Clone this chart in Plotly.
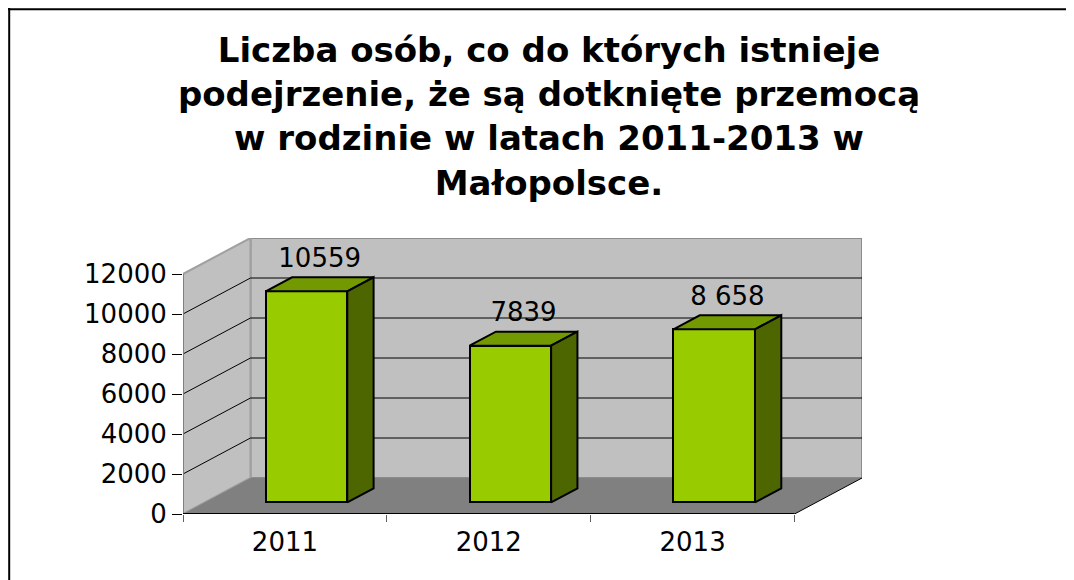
import plotly.graph_objects as go

# ---- data ----
years = ["2011", "2012", "2013"]
values = [10559, 7839, 8658]
value_labels = ["10559", "7839", "8 658"]
y_ticks = [0, 2000, 4000, 6000, 8000, 10000, 12000]
y_tick_labels = ["0", "2000", "4000", "6000", "8000", "10000", "12000"]
title_lines = [
    "Liczba osób, co do których istnieje",
    "podejrzenie, że są dotknięte przemocą",
    "w rodzinie w latach 2011-2013 w",
    "Małopolsce.",
]

# ---- layout constants ----
W, H = 1074, 580
OFF = 8                        # page body margin offset
ML, MT = 183 - OFF, 238 - OFF
MR, MB = W - (862 - OFF), H - (514 - OFF)
DX, DY = 0.331, 1800          # depth offset of the 3-D box in axis units
D0, DL = 0.32, 0.39           # bar depth start / length (fraction of box depth)
BAR_W = 0.40
YMAX = 12000
n = len(years)
FONT = "DejaVu Sans"

front_col, top_col, side_col = "#99CC00", "#739900", "#4D6600"
wall_col, floor_col, edge_col = "#C0C0C0", "#808080", "#8C8C8C"


def proj(x, y, d):
    return x + d * DX, y + d * DY


def path(pts):
    return "M " + " L ".join(f"{x},{y}" for x, y in pts) + " Z"


shapes = []
# back wall
shapes.append(dict(type="path", layer="below", xref="x", yref="y",
                   path=path([proj(0, 0, 1), proj(n, 0, 1), proj(n, YMAX, 1), proj(0, YMAX, 1)]),
                   fillcolor=wall_col, line=dict(color=edge_col, width=2)))
# left wall
shapes.append(dict(type="path", layer="below", xref="x", yref="y",
                   path=path([proj(0, 0, 0), proj(0, YMAX, 0), proj(0, YMAX, 1), proj(0, 0, 1)]),
                   fillcolor=wall_col, line=dict(color="#A0A0A0", width=2)))
# floor
shapes.append(dict(type="path", layer="below", xref="x", yref="y",
                   path=path([proj(0, 0, 0), proj(n, 0, 0), proj(n, 0, 1), proj(0, 0, 1)]),
                   fillcolor=floor_col, line=dict(width=0)))
# gridlines on walls
for v in y_ticks[1:-1]:
    x0, y0 = proj(0, v, 0)
    x1, y1 = proj(0, v, 1)
    x2, y2 = proj(n, v, 1)
    shapes.append(dict(type="line", layer="below", xref="x", yref="y",
                       x0=x0, y0=y0, x1=x1, y1=y1, line=dict(color="black", width=1)))
    shapes.append(dict(type="line", layer="below", xref="x", yref="y",
                       x0=x1, y0=y1, x1=x2, y1=y2, line=dict(color="black", width=1)))
# front vertical axis edge
shapes.append(dict(type="line", layer="below", xref="x", yref="y",
                   x0=0, y0=0, x1=0, y1=YMAX, line=dict(color="#808080", width=2)))
# floor front edge (category axis) and right edge
shapes.append(dict(type="line", layer="below", xref="x", yref="y",
                   x0=0, y0=0, x1=n, y1=0, line=dict(color="black", width=2)))
fx, fy = proj(n, 0, 1)
shapes.append(dict(type="line", layer="below", xref="x", yref="y",
                   x0=n, y0=0, x1=fx, y1=fy, line=dict(color="black", width=1)))

# chart frame (top and left border)
PW, PH = W - ML - MR, H - MT - MB


def px_x(p):
    return (p - ML) / PW


def px_y(p):
    return (H - MB - p) / PH


shapes.append(dict(type="line", xref="paper", yref="paper",
                   x0=px_x(0), y0=px_y(1.2), x1=px_x(W), y1=px_y(1.2),
                   line=dict(color="black", width=2)))
shapes.append(dict(type="line", xref="paper", yref="paper",
                   x0=px_x(1.2), y0=px_y(0), x1=px_x(1.2), y1=px_y(H),
                   line=dict(color="black", width=2)))

fig = go.Figure()

# front faces
centers = [i + 0.5 for i in range(n)]
fig.add_trace(go.Bar(
    x=[c + D0 * DX for c in centers], y=values, base=[D0 * DY] * n, width=BAR_W,
    marker=dict(color=front_col, line=dict(color="black", width=2)),
    hoverinfo="skip", showlegend=False))

# top and side faces
tx, ty, sx, sy = [], [], [], []
for c, v in zip(centers, values):
    xl, xr = c - BAR_W / 2, c + BAR_W / 2
    D1 = D0 + DL
    for p in [proj(xl, v, D0), proj(xr, v, D0), proj(xr, v, D1), proj(xl, v, D1), proj(xl, v, D0)]:
        tx.append(p[0]); ty.append(p[1])
    tx.append(None); ty.append(None)
    for p in [proj(xr, 0, D0), proj(xr, v, D0), proj(xr, v, D1), proj(xr, 0, D1), proj(xr, 0, D0)]:
        sx.append(p[0]); sy.append(p[1])
    sx.append(None); sy.append(None)

fig.add_trace(go.Scatter(x=tx, y=ty, mode="lines", fill="toself", fillcolor=top_col,
                         line=dict(color="black", width=2), hoverinfo="skip", showlegend=False))
fig.add_trace(go.Scatter(x=sx, y=sy, mode="lines", fill="toself", fillcolor=side_col,
                         line=dict(color="black", width=2), hoverinfo="skip", showlegend=False))

# value labels
lx = [c + (D0 + DL / 2) * DX for c in centers]
ly = [v + (D0 + DL) * DY + 850 for v in values]
fig.add_trace(go.Scatter(x=lx, y=ly, mode="text", text=value_labels, textposition="middle center",
                         textfont=dict(family=FONT, size=26, color="black"),
                         cliponaxis=False, hoverinfo="skip", showlegend=False))

fig.update_layout(
    width=W, height=H,
    margin=dict(l=ML, r=MR, t=MT, b=MB, pad=0),
    paper_bgcolor="white", plot_bgcolor="white",
    shapes=shapes,
    title=dict(text="<br>".join(title_lines), x=(549 - OFF) / W, xref="container", xanchor="center",
               y=1 - 54 / H, yref="container", yanchor="top",
               font=dict(family=FONT, size=34, color="black", weight="bold")),
    xaxis=dict(range=[0, n + DX], tickmode="array", tickvals=centers, ticktext=years,
               ticks="outside", ticklen=5, tickcolor="rgba(0,0,0,0)",
               showgrid=False, zeroline=False, showline=False,
               tickfont=dict(family=FONT, size=26, color="black"),
               minor=dict(tickmode="array", tickvals=list(range(n + 1)), ticks="outside",
                          ticklen=7, tickcolor="#606060", tickwidth=1, showgrid=False),
               fixedrange=True),
    yaxis=dict(range=[0, YMAX + DY], tickmode="array", tickvals=y_ticks, ticktext=y_tick_labels,
               ticks="outside", ticklen=10, tickcolor="black", tickwidth=1,
               showgrid=False, zeroline=False, showline=False,
               tickfont=dict(family=FONT, size=26, color="black"),
               fixedrange=True),
    bargap=0,
)

fig.write_html("out.html")
